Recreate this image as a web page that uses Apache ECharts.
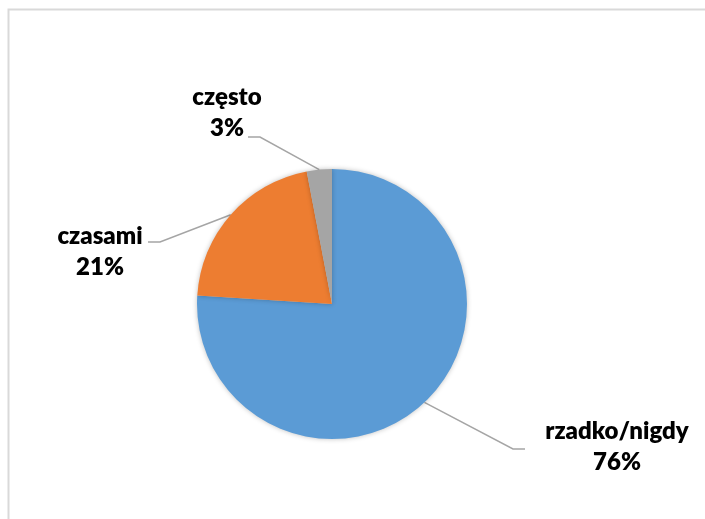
<!DOCTYPE html>
<html>
<head>
<meta charset="utf-8">
<script src="https://cdn.jsdelivr.net/npm/echarts@6/dist/echarts.min.js"></script>
<style>
html,body{margin:0;padding:0;background:#fff;}
#c{width:705px;height:519px;}
</style>
</head>
<body>
<div id="c"></div>
<script>
var categories = ['rzadko/nigdy', 'czasami', 'często'];
var values = [76, 21, 3];
var colors = ['#5B9BD5', '#ED7D31', '#A5A5A5'];

// label placement (layout only): label centre x, top y, elbow point, line end
var labelLayouts = [
  { x: 617, y: 416, elbow: [513, 449], end: [525, 449] },
  { x: 100, y: 221, elbow: [160, 242], end: [148, 242] },
  { x: 227, y: 82,  elbow: [260, 137], end: [248, 137] }
];

var chart = echarts.init(document.getElementById('c'), null, {renderer: 'canvas'});
var data = categories.map(function (c, i) {
  return { name: c, value: values[i], itemStyle: { color: colors[i] } };
});

chart.setOption({
  animation: false,
  graphic: [{
    type: 'rect',
    shape: { x: 8.5, y: 9.5, width: 760, height: 560 },
    style: { fill: 'none', stroke: '#d9d9d9', lineWidth: 2 },
    silent: true, z: -10
  }],
  series: [{
    type: 'pie',
    center: [332, 304],
    radius: [0, 135],
    startAngle: 90,
    clockwise: true,
    data: data,
    itemStyle: {
      borderWidth: 0,
      shadowBlur: 5,
      shadowColor: 'rgba(0,0,0,0.25)'
    },
    label: {
      show: true,
      position: 'outside',
      formatter: function (p) { return p.name + '\n' + p.value + '%'; },
      fontFamily: 'Lato',
      fontWeight: 800,
      fontSize: 24,
      lineHeight: 31,
      color: '#000',
      align: 'center'
    },
    labelLine: {
      show: true,
      lineStyle: { color: '#A5A5A5', width: 1.5 }
    },
    labelLayout: function (params) {
      var L = labelLayouts[params.dataIndex];
      var start = params.labelLinePoints ? params.labelLinePoints[0] : L.elbow;
      return {
        x: L.x,
        y: L.y,
        align: 'center',
        verticalAlign: 'top',
        labelLinePoints: [start, L.elbow, L.end]
      };
    }
  }]
});
</script>
</body>
</html>
